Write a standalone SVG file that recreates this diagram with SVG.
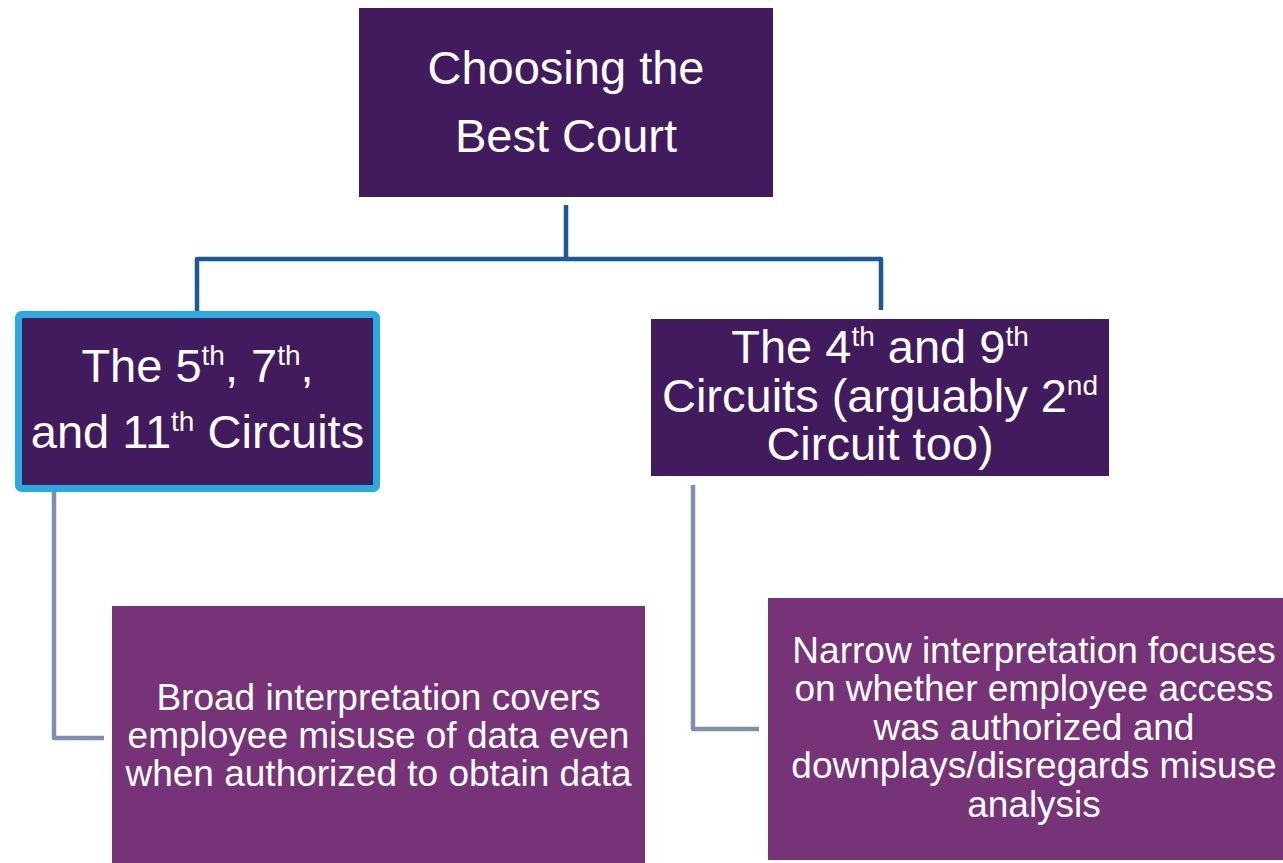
<svg xmlns="http://www.w3.org/2000/svg" width="1283" height="863" viewBox="0 0 1283 863">
<style>
  text { font-family: "Liberation Sans", Arial, sans-serif; fill: #ffffff; text-anchor: middle; }
  .big { font-size: 47px; }
  .small { font-size: 37px; }
  .sup { font-size: 28px; }
  .dark { fill: #421b5f; }
  .light { fill: #773377; }
  .main { fill: none; stroke: #1c5a95; stroke-width: 4.5; stroke-linejoin: round; }
  .sub { fill: none; stroke: #7f8fad; stroke-width: 4.5; stroke-linejoin: round; }
</style>
<rect width="1283" height="863" fill="#ffffff"/>
<g id="connectors">
  <path class="main" d="M566 205 V259 M197 312 V259 H881 V310"/>
  <path class="sub" d="M54 492 V738 H104"/>
  <path class="sub" d="M693 485 V729 H759"/>
</g>
<g id="root">
  <rect class="dark" x="359" y="8" width="414" height="189"/>
  <text class="big" x="566" y="84">Choosing the</text>
  <text class="big" x="566" y="152">Best Court</text>
</g>
<g id="broad-circuits">
  <rect class="dark" x="18.5" y="314.5" width="358" height="174" rx="3" stroke="#29abe2" stroke-width="7"/>
  <text class="big" x="197.5" y="382">The 5<tspan class="sup" dy="-17">th</tspan><tspan dy="17">, 7</tspan><tspan class="sup" dy="-17">th</tspan><tspan dy="17">,</tspan></text>
  <text class="big" x="197.5" y="448">and 11<tspan class="sup" dy="-17">th</tspan><tspan dy="17"> Circuits</tspan></text>
</g>
<g id="narrow-circuits">
  <rect class="dark" x="651" y="319" width="458" height="157"/>
  <text class="big" x="880" y="363">The 4<tspan class="sup" dy="-17">th</tspan><tspan dy="17"> and 9</tspan><tspan class="sup" dy="-17">th</tspan></text>
  <text class="big" x="880" y="412">Circuits (arguably 2<tspan class="sup" dy="-17">nd</tspan></text>
  <text class="big" x="880" y="460">Circuit too)</text>
</g>
<g id="broad-desc">
  <rect class="light" x="112" y="606" width="533" height="257"/>
  <text class="small" x="378.5" y="710">Broad interpretation covers</text>
  <text class="small" x="378.5" y="748">employee misuse of data even</text>
  <text class="small" x="378.5" y="786">when authorized to obtain data</text>
</g>
<g id="narrow-desc">
  <rect class="light" x="768" y="598" width="530" height="262"/>
  <text class="small" x="1034" y="663">Narrow interpretation focuses</text>
  <text class="small" x="1034" y="701">on whether employee access</text>
  <text class="small" x="1034" y="740">was authorized and</text>
  <text class="small" x="1034" y="778">downplays/disregards misuse</text>
  <text class="small" x="1034" y="817">analysis</text>
</g>
</svg>
